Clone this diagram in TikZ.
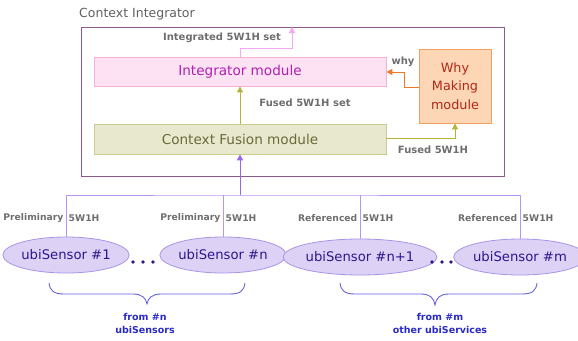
\documentclass[tikz,border=0pt]{standalone}
\usepackage{fontspec}
\setmainfont{DejaVu Sans}
\usetikzlibrary{arrows.meta,shapes.geometric}
\definecolor{frameC}{HTML}{8A5A8A}
\definecolor{titleC}{HTML}{606060}
\definecolor{noteC}{HTML}{6E6E6E}
\definecolor{intFill}{HTML}{FDE2F3}
\definecolor{intLine}{HTML}{F2B2DC}
\definecolor{intText}{HTML}{B020B0}
\definecolor{fusFill}{HTML}{E8E8CE}
\definecolor{fusLine}{HTML}{CACA92}
\definecolor{fusText}{HTML}{6A6A3A}
\definecolor{whyFill}{HTML}{FDD6B6}
\definecolor{whyLine}{HTML}{F0A060}
\definecolor{whyText}{HTML}{B02818}
\definecolor{oliveC}{HTML}{B4B43C}
\definecolor{pinkC}{HTML}{F2A8F2}
\definecolor{orangeC}{HTML}{F07828}
\definecolor{busC}{HTML}{B496F4}
\definecolor{upC}{HTML}{9466EC}
\definecolor{ellFill}{HTML}{DDD2F6}
\definecolor{ellLine}{HTML}{A894E6}
\definecolor{ellText}{HTML}{30148C}
\definecolor{braceC}{HTML}{6464E2}
\definecolor{fromC}{HTML}{2A2AC8}
\tikzset{
  module/.style={draw=#1Line, fill=#1Fill, text=#1Text, line width=0.8pt,
    inner sep=0pt, font=\fontsize{13.6}{16}\selectfont},
  note/.style={text=noteC, font=\bfseries\fontsize{10}{12}\selectfont, inner sep=0pt},
  busnote/.style={note, font=\bfseries\fontsize{9.2}{11}\selectfont},
  sensor/.style={ellipse, draw=ellLine, fill=ellFill, text=ellText, line width=0.8pt,
    inner sep=0pt, minimum height=36pt, font=\fontsize{13.2}{16}\selectfont},
  flow/.style={line width=1pt, -{Triangle[length=6pt,width=6pt]}},
  fromtxt/.style={text=fromC, font=\bfseries\fontsize{9.5}{11}\selectfont, inner sep=0pt, align=center},
}
\begin{document}
\begin{tikzpicture}[x=1pt,y=-1pt]
\useasboundingbox (0,0) rectangle (578,340);

% container
\node[text=titleC, font=\fontsize{12.5}{14}\selectfont, anchor=west, inner sep=0pt] (title) at (79,14) {Context Integrator};
\draw[frameC, line width=0.9pt] (81,27) rectangle (504,176);

% modules
\node[module=int, minimum width=292pt, minimum height=29pt] (integ) at (240,71.5) {Integrator module};
\node[module=fus, minimum width=292pt, minimum height=30pt] (fusion) at (240,139) {Context Fusion module};
\node[module=why, minimum width=72pt, minimum height=74pt, align=center,
      font=\fontsize{12.8}{18.5}\selectfont] (why) at (455,86) {Why\\Making\\module};

% output of the integrator
\coordinate (out) at (292,27);
\draw[flow, pinkC] (integ.north) -- (240,48) -| (out);
\node[note] (lblInt) at (222,38) {Integrated 5W1H set};

% fusion -> integrator
\draw[flow, oliveC] (fusion.north) -- (integ.south);
\node[note] (lblFset) at (305,103) {Fused 5W1H set};

% fusion -> why
\draw[flow, oliveC] (fusion.east |- 0,138) -| (why.south);
\node[note] (lblF) at (433,150) {Fused 5W1H};

% why -> integrator
\draw[flow, orangeC] (why.west |- 0,87) -- (404,87) |- (integ.east |- 0,72);
\node[note] (lblWhy) at (403,62) {why};

% sensors
\node[sensor, minimum width=112pt] (s1) at (66,255) {ubiSensor \#1};
\node[sensor, minimum width=112pt] (sn) at (223,255) {ubiSensor \#n};
\node[sensor, minimum width=117pt] (sn1) at (360,257) {ubiSensor \#n+1};
\node[sensor, minimum width=115pt] (sm) at (520,257) {ubiSensor \#m};

% collection bus
\coordinate (bus) at (240,195);
\draw[busC, line width=1pt] (s1.north) |- (bus) -| (sm.north);
\draw[busC, line width=1pt] (sn.north) -- (sn.north |- bus);
\draw[busC, line width=1pt] (sn1.north) -- (sn1.north |- bus);
\draw[flow, upC] (bus) -- (fusion.south);

% bus labels
\node[busnote, anchor=east] (p1a) at (63.5,218) {Preliminary};
\node[busnote, anchor=west] (p1b) at (68.5,218) {5W1H};
\node[busnote, anchor=east] (pna) at (220.5,218) {Preliminary};
\node[busnote, anchor=west] (pnb) at (225.5,218) {5W1H};
\node[busnote, anchor=east] (r1a) at (357.5,218) {Referenced};
\node[busnote, anchor=west] (r1b) at (362.5,218) {5W1H};
\node[busnote, anchor=east] (rma) at (517.5,218) {Referenced};
\node[busnote, anchor=west] (rmb) at (522.5,218) {5W1H};

% ellipsis dots
\foreach \x in {133,143,153,432,442,451}
  \fill[ellText] (\x,262) circle (1.9pt);

% braces
\draw[braceC, line width=0.9pt] (49,283) .. controls (50,291) and (54,294) .. (64,294)
  -- (133,294) .. controls (142,294) and (146,298) .. (147,304)
  .. controls (148,298) and (152,294) .. (161,294) -- (230,294)
  .. controls (240,294) and (244,291) .. (245,283);
\draw[braceC, line width=0.9pt] (340,283) .. controls (341,291) and (345,294) .. (355,294)
  -- (421,294) .. controls (430,294) and (434,298) .. (435,305)
  .. controls (436,298) and (440,294) .. (449,294) -- (522,294)
  .. controls (532,294) and (536,291) .. (537,283);

\node[fromtxt] (fromN) at (145,323) {from \#n\\[2pt]ubiSensors};
\node[fromtxt] (fromM) at (440,323) {from \#m\\[2pt]other ubiServices};
\end{tikzpicture}
\end{document}
